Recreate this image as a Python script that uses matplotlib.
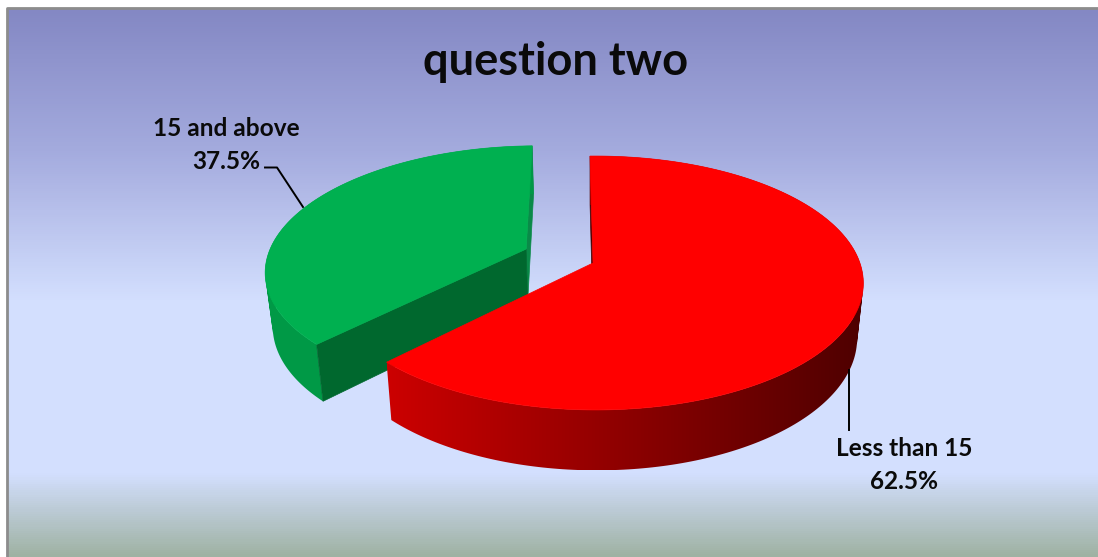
import numpy as np
import matplotlib
matplotlib.use('Agg')
import matplotlib.pyplot as plt
from matplotlib.colors import LinearSegmentedColormap
from matplotlib.patches import PathPatch, Polygon
from matplotlib.path import Path

plt.rcParams['font.family'] = ['Lato', 'DejaVu Sans']

title = 'question two'
labels = ['Less than 15', '15 and above']
shares = [62.5, 37.5]
colors = ['#ff0000', '#00b050']

# pie geometry, in pixels of the picture
cx, cy = 593, 263
radius = 264.4
squash = 123.8
depth = 55
camera = 6.35
skew = 0.06
shrink = 0.977
first_angle = -0.75
green_shift = (-0.258, 0.115)


def project(u, v, low=False):
    s = camera / (camera + v - skew * u)
    if low:
        s = s * shrink
        return cx + radius * u * s, cy + (depth - squash * v) * s
    return cx + radius * u * s, cy - squash * v * s


def ring(a0, a1, off, low=False):
    t = np.radians(np.linspace(a0, a1, 240))
    x, y = project(np.sin(t) + off[0], np.cos(t) + off[1], low)
    return np.column_stack([x, y])


def wall(ang, off):
    # flat cut face from the centre of the pie out to the rim
    t = np.radians(ang)
    a = project(off[0], off[1])
    b = project(np.sin(t) + off[0], np.cos(t) + off[1])
    c = project(np.sin(t) + off[0], np.cos(t) + off[1], True)
    d = project(off[0], off[1], True)
    return [a, b, c, d]


def side(ax, top, low, c0, c1, z):
    # outer side of a slice: gradient clipped to the area swept from rim to lower rim
    paths = []
    for i in range(len(top) - 1):
        quad = np.array([top[i], top[i + 1], low[i + 1], low[i], top[i]])
        e1 = quad[1] - quad[0]
        e2 = quad[2] - quad[0]
        if e1[0] * e2[1] - e1[1] * e2[0] < 0:
            quad = quad[::-1]
        paths.append(Path(quad, closed=True))
    patch = PathPatch(Path.make_compound_path(*paths), fc='none', ec='none', zorder=z)
    ax.add_patch(patch)
    pts = np.vstack([top, low])
    cmap = LinearSegmentedColormap.from_list('side', [c0, c1])
    im = ax.imshow(np.linspace(0, 1, 256)[None, :], cmap=cmap, aspect='auto', zorder=z,
                   extent=(pts[:, 0].min(), pts[:, 0].max(), pts[:, 1].max(), pts[:, 1].min()))
    im.set_clip_path(patch)


fig = plt.figure(figsize=(10.98, 5.57), dpi=100, facecolor='white')
ax = fig.add_axes([0, 0, 1, 1])
ax.axis('off')

# background
bg_y = np.array([9, 150, 300, 475, 557])
bg_c = ['#8488c4', '#a4abde', '#d3dffe', '#d3dffe', '#9fb2a3']
bg_cmap = LinearSegmentedColormap.from_list('bg', list(zip((bg_y - 9) / 548, bg_c)))
ax.imshow(np.linspace(0, 1, 548)[:, None], cmap=bg_cmap, aspect='auto', extent=(8, 1098, 557, 9), zorder=0)
ax.plot([7, 7, 1098], [557, 8, 8], color='#8c8c8c', lw=2, zorder=1)

# green slice goes first, the red one sits in front of it
end = first_angle + shares[0] * 3.6
off = green_shift
top = ring(end, first_angle + 360, off)
low = ring(end, first_angle + 360, off, True)
ax.add_patch(Polygon(wall(first_angle + 360, off), closed=True, fc='#0a8a48', ec='#0a8a48', lw=0.5, zorder=2))
side(ax, top, low, '#009a47', '#019846', 3)
ax.add_patch(Polygon(wall(end, off), closed=True, fc='#00682e', ec='#00682e', lw=0.5, zorder=4))
apex = project(off[0], off[1])
ax.add_patch(Polygon(np.vstack([apex, top]), closed=True, fc=colors[1], ec=colors[1], lw=0.5, zorder=5))

# red slice
top = ring(first_angle, end, (0, 0))
low = ring(first_angle, end, (0, 0), True)
ax.add_patch(Polygon(wall(first_angle, (0, 0)), closed=True, fc='#4a0000', ec='#4a0000', lw=0.5, zorder=6))
side(ax, top, low, '#cc0000', '#4e0000', 7)
apex = project(0, 0)
ax.add_patch(Polygon(np.vstack([apex, top]), closed=True, fc=colors[0], ec=colors[0], lw=0.5, zorder=8))

# leader lines
ax.plot([849, 849], [370, 430], color='black', lw=1.4, zorder=9)
ax.plot([265, 277, 303], [167.5, 167.5, 207], color='black', lw=1.4, zorder=4.5)

ax.text(556, 62, title, ha='center', va='center', fontsize=32.6, fontweight='bold', color='#0a0a0a', zorder=10)
ax.text(904, 465, '%s\n%s%%' % (labels[0], shares[0]), ha='center', va='center', fontsize=17.6,
        fontweight='bold', color='#0a0a0a', linespacing=1.5, zorder=10)
ax.text(226, 145, '%s\n%s%%' % (labels[1], shares[1]), ha='center', va='center', fontsize=17.6,
        fontweight='bold', color='#0a0a0a', linespacing=1.5, zorder=10)

ax.set_xlim(0, 1098)
ax.set_ylim(557, 0)
fig.savefig('out.png', dpi=100)
